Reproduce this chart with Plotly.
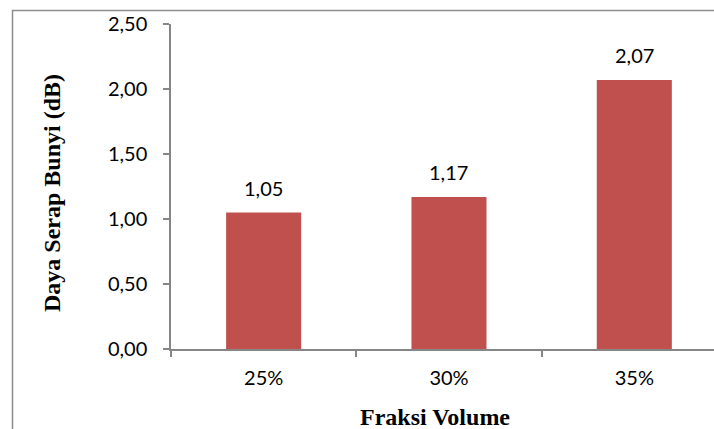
import plotly.graph_objects as go

# Sound absorption by volume fraction
categories = ["25%", "30%", "35%"]
values = [1.05, 1.17, 2.07]
y_ticks = [0.0, 0.5, 1.0, 1.5, 2.0, 2.5]

BAR_COLOR = "#C0504D"
AXIS_COLOR = "#868686"
TICK_FONT = dict(family="Lato", size=20, color="#000000")
TITLE_FONT = dict(family="Liberation Serif", size=24, color="#000000")

W, H = 714, 429
L, T, B, R = 171, 24, 80, 0
plot_w = W - L - R
plot_h = H - T - B

fig = go.Figure()
fig.add_trace(go.Bar(
    x=categories,
    y=values,
    marker=dict(color=BAR_COLOR, line=dict(width=0)),
    width=0.405,
    hoverinfo="skip",
))

# value labels above each bar
for cat, v in zip(categories, values):
    fig.add_annotation(
        x=cat, y=v, xref="x", yref="y",
        text=f"{v:.2f}".replace(".", ","),
        showarrow=False, yanchor="bottom", yshift=11,
        font=TICK_FONT,
    )

# axis titles
fig.add_annotation(
    x=(435 - L) / plot_w, y=(H - B - 417) / plot_h, xref="paper", yref="paper",
    text="<b>Fraksi Volume</b>", showarrow=False,
    xanchor="center", yanchor="middle", font=TITLE_FONT,
)
fig.add_annotation(
    x=(52 - L) / plot_w, y=(H - B - 193) / plot_h, xref="paper", yref="paper",
    text="<b>Daya Serap Bunyi (dB)</b>", showarrow=False, textangle=-90,
    xanchor="center", yanchor="middle", font=TITLE_FONT,
)

# chart frame
fig.add_shape(
    type="rect", xref="paper", yref="paper",
    x0=(12.5 - L) / plot_w, x1=(W + 20 - L) / plot_w,
    y0=(H - B - (H + 20)) / plot_h, y1=(H - B - 10.5) / plot_h,
    line=dict(color="#8C8C8C", width=1.5), fillcolor="rgba(0,0,0,0)",
    layer="below",
)

fig.update_layout(
    width=W, height=H,
    margin=dict(l=L, r=R, t=T, b=B, pad=0),
    paper_bgcolor="white", plot_bgcolor="white",
    showlegend=False,
    separators=",.",
    bargap=0.6,
)
fig.update_xaxes(
    type="category",
    range=[-0.5, 2.43],
    showline=True, linecolor=AXIS_COLOR, linewidth=1.5,
    ticks="outside", tickson="boundaries", ticklen=6, tickcolor=AXIS_COLOR, tickwidth=1.5,
    showgrid=False, zeroline=False,
    tickfont=TICK_FONT, ticklabelstandoff=10,
)
fig.update_yaxes(
    range=[0, 2.5],
    tickvals=y_ticks, tickformat=".2f",
    showline=True, linecolor=AXIS_COLOR, linewidth=1.5,
    ticks="outside", ticklen=6, tickcolor=AXIS_COLOR, tickwidth=1.5,
    showgrid=False, zeroline=False,
    tickfont=TICK_FONT, ticklabelstandoff=12,
)

fig.write_html("out.html")
